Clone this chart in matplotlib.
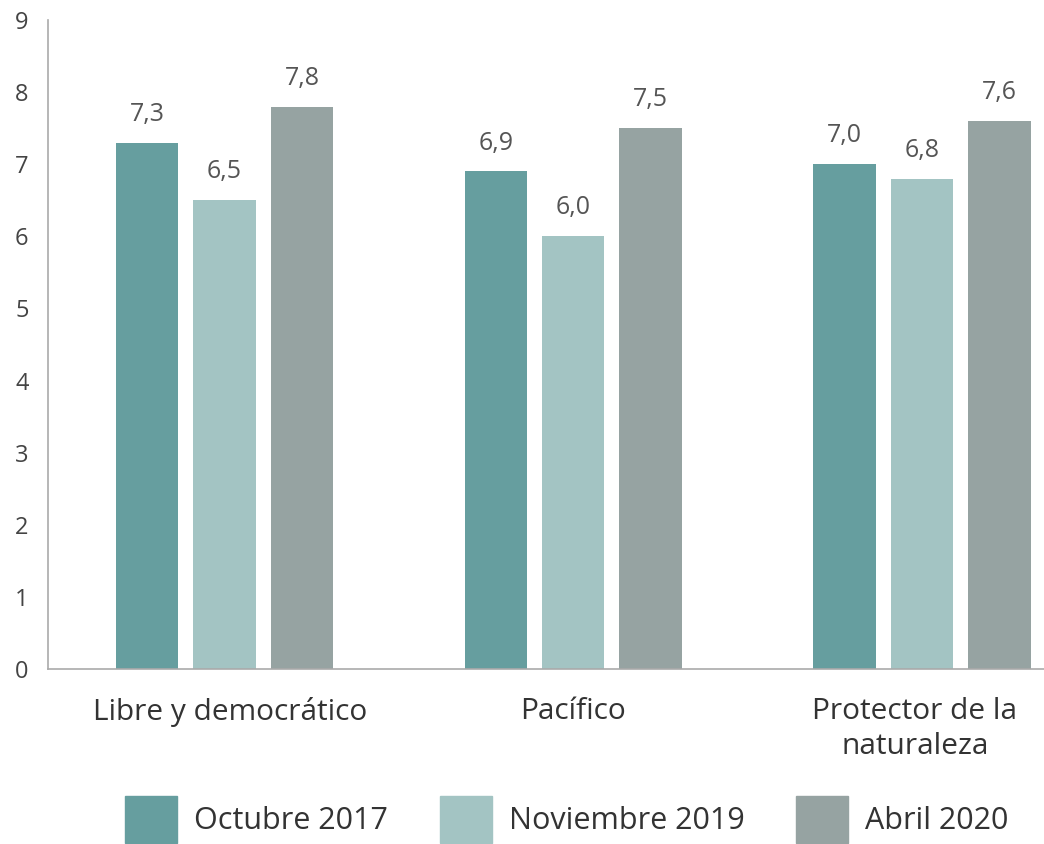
import numpy as np
import matplotlib.pyplot as plt
from matplotlib.patches import Patch

categories = ["Libre y democrático", "Pacífico", "Protector de la\nnaturaleza"]
series = ["Octubre 2017", "Noviembre 2019", "Abril 2020"]
oct_2017 = [7.3, 6.9, 7.0]
nov_2019 = [6.5, 6.0, 6.8]
abr_2020 = [7.8, 7.5, 7.6]
colors = ["#669e9f", "#a3c4c3", "#96a3a2"]

plt.rcParams['font.family'] = ['Open Sans', 'DejaVu Sans']

fig = plt.figure(figsize=(10.44, 8.44), dpi=100)
ax = fig.add_axes([0.046, 0.2073, 0.954, 0.769])

x = np.arange(len(categories))
width = 0.179
step = 0.222
for i, (vals, col) in enumerate(zip([oct_2017, nov_2019, abr_2020], colors)):
    pos = x + (i - 1) * step
    ax.bar(pos, vals, width=width, color=col)
    for p, v in zip(pos, vals):
        ax.text(p, v + 0.22, f"{v:.1f}".replace(".", ","), ha="center", va="bottom",
                fontsize=18, color="#555555")

ax.set_xlim(-0.506, 2.35)
ax.set_ylim(0, 9)
ax.set_yticks(range(10))
ax.set_xticks(x + [0.015, 0, -0.02])
ax.set_xticklabels(categories, fontsize=21.5, color="#333333", linespacing=1.3)
ax.tick_params(axis="y", length=0, labelsize=17, labelcolor="#444444", pad=14)
ax.tick_params(axis="x", length=0, pad=20)
for s in ["top", "right"]:
    ax.spines[s].set_visible(False)
for s in ["left", "bottom"]:
    ax.spines[s].set_color("#aaaaaa")
    ax.spines[s].set_linewidth(1.2)

handles = [Patch(color=c) for c in colors]
fig.legend(handles, series, loc="lower center", bbox_to_anchor=(0.543, -0.031), ncol=3,
           frameon=False, fontsize=22, handlelength=1.7, handleheight=1.95,
           handletextpad=0.55, columnspacing=1.7, labelcolor="#333333")

fig.savefig("out.png", dpi=100)
